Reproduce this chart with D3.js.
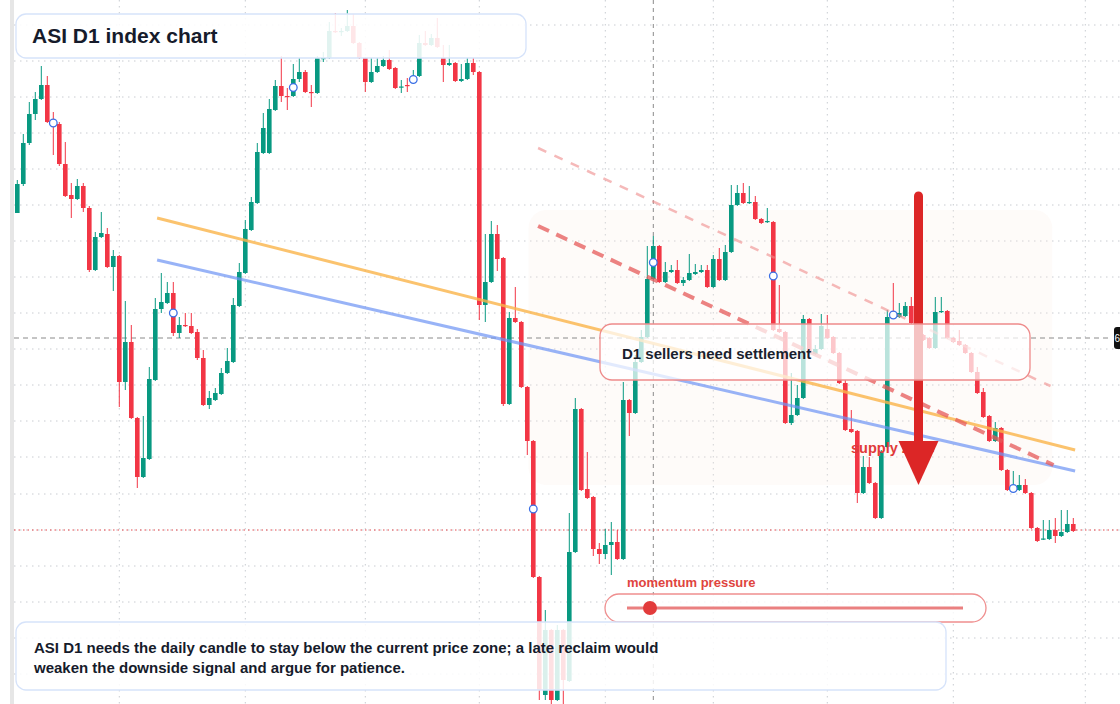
<!DOCTYPE html>
<html><head><meta charset="utf-8">
<script src="https://cdn.jsdelivr.net/npm/d3@7"></script>
<style>html,body{margin:0;padding:0;background:#fff;overflow:hidden}svg{display:block;font-family:"Liberation Sans",Arial,sans-serif}</style>
</head><body><svg id="c" width="1120" height="704"></svg>
<script>
// [open, high, low, close]
const candles = [
[787,820,787,816],[816,866,814,857],[857,898,855,886],[886,908,880,901],[901,934,900,915],
[915,924,877,878],[878,888,845,876],[876,878,834,836],[836,858,803,804],[805,817,782,801],
[801,821,800,814],[814,817,788,792],[792,794,728,730],[730,768,729,763],[763,788,762,767],
[766,772,732,733],[733,750,709,744],[744,745,593,618],[618,699,610,658],[658,675,581,582],
[582,583,512,523],[523,584,522,542],[541,633,540,621],[620,702,619,691],[691,727,687,698],
[697,718,696,707],[707,718,664,667],[667,683,662,675],[675,687,673,674],[674,687,666,667],
[668,671,640,642],[642,650,594,595],[595,609,591,602],[600,612,599,607],[606,632,605,627],
[627,652,626,639],[638,702,637,695],[694,737,693,728],[727,780,726,771],[770,803,769,798],
[797,857,796,848],[847,887,846,872],[847,901,846,891],[890,920,889,914],[914,944,898,904],
[904,912,890,903.5],[904,936,903,921],[921,942,918,928],[928,930,907,908],[908,915,893,907],
[907,944,906,942],[941,948,938,942],[942,978,941,969],[969,987,967,968],[968,972,964,969],
[969,990,968,974],[974,986,956,957],[957,958,941,942],[942,943,908,918],[918,942,917,928],
[928,942,927,934],[934,944,933,940],[940,950,930,931],[932,933,911,912],[913,920,907,913.5],
[915,922,908,914],[917,930,916,924],[924,965,923,957],[957,969,954,955],[955,966,954,962],
[962,982,952,953],[942,955,918,935],[935,955,934,937],[937,938,918,919],[919,936,918,921],
[921,942,920,937],[937,942,925,928],[928,929,680,695],[695,766,678,718],[718,779,717,766],
[766,775,729,741],[742,743,594,596],[596,688,595,682],[682,713,677,678],[678,679,612,613],
[613,614,545,559],[559,560,422,423],[423,424,300,310],[305,390,300,370],[370,371,296,300],
[300,375,299,370],[370,371,295,320],[319,487,318,448],[448,602,447,591],[591,592,509,510],
[511,548,501,502],[503,504,444,451],[451,457,436,446],[446,471,441,455],[455,478,425,458],
[458,470,440,441],[441,618,440,600],[600,601,564,587],[587,645,586,638],[638,670,637,663],
[663,754,662,721],[721,764,720,754],[754,755,717,718],[718,738,717,728],[728,735,727,730],
[730,740,716,717],[717,723,714,720],[720,746,719,727],[726,736,725,728],[728,735,727,730],
[730,735,712,713],[713,745,712,741],[741,752,719,720],[720,755,719,748],[748,815,747,795],
[795,815,794,807],[807,817,796,797],[797,814,796,798],[798,804,780,781],[781,782,776,777],
[778,792,777,779],[778,779,669,670],[671,715,667,668],[668,669,576,577],[577,627,575,585],
[585,615,584,602],[602,685,601,681],[681,682,646,647],[646,655,645,651],[651,686,650,674],
[671,685,661,662],[663,664,646,647],[647,648,616,617],[617,620,569,570],[571,590,567,568],
[569,570,497,507],[507,544,506,533],[533,543,516,517],[517,518,481,482],[482,550,481,548],
[553,690,552,683],[687,717,682,683],[683,697,682,687],[684,698,683,694],[694,703,676,677],
[677,678,664,665],[665,666,659,660],[662,663,651,652],[652,703,651,688],[688,703,687,689],
[689,690,661,662],[662,663,657,658],[659,670,654,655],[655,656,646,647],[647,648,627,628],
[628,633,606,607],[608,612,582,583],[584,585,558,559],[559,578,558,572],[572,573,529,530],
[530,531,509,510],[510,529,509,513],[510,525,509,515],[515,521,506,507],[507,508,471,472],
[472,473,458,459],[461,480,460,461.5],[461,480,460,470],[470,482,457,464],[464,490,463,468],
[468,490,467,476],[476,482,468,469]
];
const markerIdx = [6,26,46,66,86,106,126,146,166];
const gridPrices = [975,939,903,867,831,795,759,723,687,651,615,579,543,506,470,434,398,362,326];
const gridIdx = [17,38,58,77,98,116,135,156,178];
const orangeLine = [[23.3,782],[176.3,550]];
const blueLine = [[23.3,740],[176.3,529]];
const redDash = [[86.8,774],[172.7,535]];
const lightDash = [[86.8,852],[172.2,614]];
const zone = {i0:85.2,i1:172.5,p0:790,p1:515};
const lastPrice = 662, stopPrice = 470, crossIdx = 106;
const arrowIdx = 150.2, arrowTop = 804, arrowTip = 515;

const svg = d3.select('#c');
const x = d3.scaleLinear().domain([0,176]).range([17.3,1073.3]);
const y = d3.scaleLinear().domain([1000,296]).range([0,704]);
const UP='#089981', DN='#f23645';

svg.append('rect').attr('x',10).attr('y',0).attr('width',4).attr('height',704).attr('fill','#e6e6e6');
// grid
svg.append('g').selectAll('line').data(gridPrices).join('line')
 .attr('x1',14).attr('x2',1120).attr('y1',d=>y(d)).attr('y2',d=>y(d))
 .attr('stroke','#c9ccd1').attr('stroke-dasharray','1.5,4.5');
svg.append('g').selectAll('line').data(gridIdx).join('line')
 .attr('y1',0).attr('y2',704).attr('x1',d=>x(d)).attr('x2',d=>x(d))
 .attr('stroke','#c9ccd1').attr('stroke-dasharray','1.5,4.5');
// zone
svg.append('rect').attr('x',x(zone.i0)).attr('y',y(zone.p0)).attr('width',x(zone.i1)-x(zone.i0))
 .attr('height',y(zone.p1)-y(zone.p0)).attr('rx',18).attr('fill','#fcefe4').attr('opacity',0.22);
// crosshair / price lines
svg.append('line').attr('x1',x(crossIdx)).attr('x2',x(crossIdx)).attr('y1',0).attr('y2',704)
 .attr('stroke','#8a8a8a').attr('stroke-dasharray','4,4');
svg.append('line').attr('x1',14).attr('x2',1112).attr('y1',y(lastPrice)).attr('y2',y(lastPrice))
 .attr('stroke','#8a8a8a').attr('stroke-dasharray','5,4');
svg.append('line').attr('x1',14).attr('x2',1120).attr('y1',y(stopPrice)).attr('y2',y(stopPrice))
 .attr('stroke','#e5484d').attr('stroke-dasharray','1.5,3');
// candles
const g = svg.append('g');
candles.forEach((c,i)=>{
  const [o,h,l,cl]=c, col = cl>=o?UP:DN, cx=x(i);
  g.append('line').attr('x1',cx).attr('x2',cx).attr('y1',y(h)).attr('y2',y(l)).attr('stroke',col).attr('stroke-width',1);
  const top=y(Math.max(o,cl)), bot=y(Math.min(o,cl));
  g.append('rect').attr('x',cx-2.3).attr('width',4.6).attr('y',top).attr('height',Math.max(1.2,bot-top)).attr('fill',col);
});
// trend lines
function seg(p,stroke,w,dash,op){
  svg.append('line').attr('x1',x(p[0][0])).attr('y1',y(p[0][1])).attr('x2',x(p[1][0])).attr('y2',y(p[1][1]))
   .attr('stroke',stroke).attr('stroke-width',w).attr('stroke-dasharray',dash).attr('opacity',op);
}
seg(orangeLine,'#fbb54a',3,null,0.8);
seg(blueLine,'#6d94f5',3,null,0.7);
seg(redDash,'#e65a5a',4,'12,8',0.75);
seg(lightDash,'#f08c8c',2.5,'9,9',0.6);
// markers
svg.append('g').selectAll('circle').data(markerIdx).join('circle')
 .attr('cx',d=>x(d)).attr('cy',d=>y((candles[d][0]+candles[d][3])/2)).attr('r',3.8)
 .attr('fill','#fff').attr('stroke','#3b6fe6').attr('stroke-width',1.3);
// supply zone label + arrow
svg.append('text').attr('x',851).attr('y',453).attr('fill','#e03a3a').attr('font-size',14.5).attr('font-weight','bold').text('supply zone');
const ax=x(arrowIdx), ay=y(arrowTip);
svg.append('line').attr('x1',ax).attr('x2',ax).attr('y1',y(arrowTop)).attr('y2',ay-42)
 .attr('stroke','#dc2626').attr('stroke-width',9).attr('stroke-linecap','round');
svg.append('path').attr('d',`M${ax-20},${ay-44}L${ax+20},${ay-44}L${ax},${ay}Z`).attr('fill','#dc2626');
// label box
svg.append('rect').attr('x',600).attr('y',324).attr('width',430).attr('height',56).attr('rx',12)
 .attr('fill','#fff').attr('fill-opacity',0.72).attr('stroke','#ee8a8a').attr('stroke-width',1.3);
svg.append('text').attr('x',622).attr('y',359).attr('font-size',15).attr('font-weight','bold').attr('fill','#1a1f2e').text('D1 sellers need settlement');
// title
svg.append('rect').attr('x',16).attr('y',14).attr('width',510).attr('height',44).attr('rx',10)
 .attr('fill','#fff').attr('fill-opacity',0.88).attr('stroke','#d6e3fa').attr('stroke-width',1.3);
svg.append('text').attr('x',32).attr('y',43).attr('font-size',21).attr('font-weight','bold').attr('fill','#161b2b').text('ASI D1 index chart');
// momentum
svg.append('text').attr('x',627).attr('y',587).attr('font-size',13).attr('font-weight','bold').attr('fill','#e0443e').text('momentum pressure');
svg.append('rect').attr('x',605).attr('y',594).attr('width',381).attr('height',28).attr('rx',14)
 .attr('fill','#fff').attr('fill-opacity',0.8).attr('stroke','#ef8f8f').attr('stroke-width',1.3);
svg.append('line').attr('x1',627).attr('x2',963).attr('y1',608).attr('y2',608).attr('stroke','#ea8080').attr('stroke-width',3);
svg.append('circle').attr('cx',650).attr('cy',608).attr('r',7).attr('fill','#e23b3b');
// bottom note
svg.append('rect').attr('x',16).attr('y',622).attr('width',930).attr('height',68).attr('rx',10)
 .attr('fill','#fff').attr('fill-opacity',0.85).attr('stroke','#d6e3fa').attr('stroke-width',1.3);
const note = svg.append('text').attr('font-size',15).attr('font-weight','bold').attr('fill','#161b2b');
note.append('tspan').attr('x',34).attr('y',653).text('ASI D1 needs the daily candle to stay below the current price zone; a late reclaim would');
note.append('tspan').attr('x',34).attr('y',673).text('weaken the downside signal and argue for patience.');
// right price tag
svg.append('rect').attr('x',1114).attr('y',y(lastPrice)-11).attr('width',50).attr('height',22).attr('rx',3).attr('fill','#111');
svg.append('text').attr('x',1114.5).attr('y',y(lastPrice)+4).attr('font-size',10).attr('fill','#fff').text('6');
</script></body></html>
